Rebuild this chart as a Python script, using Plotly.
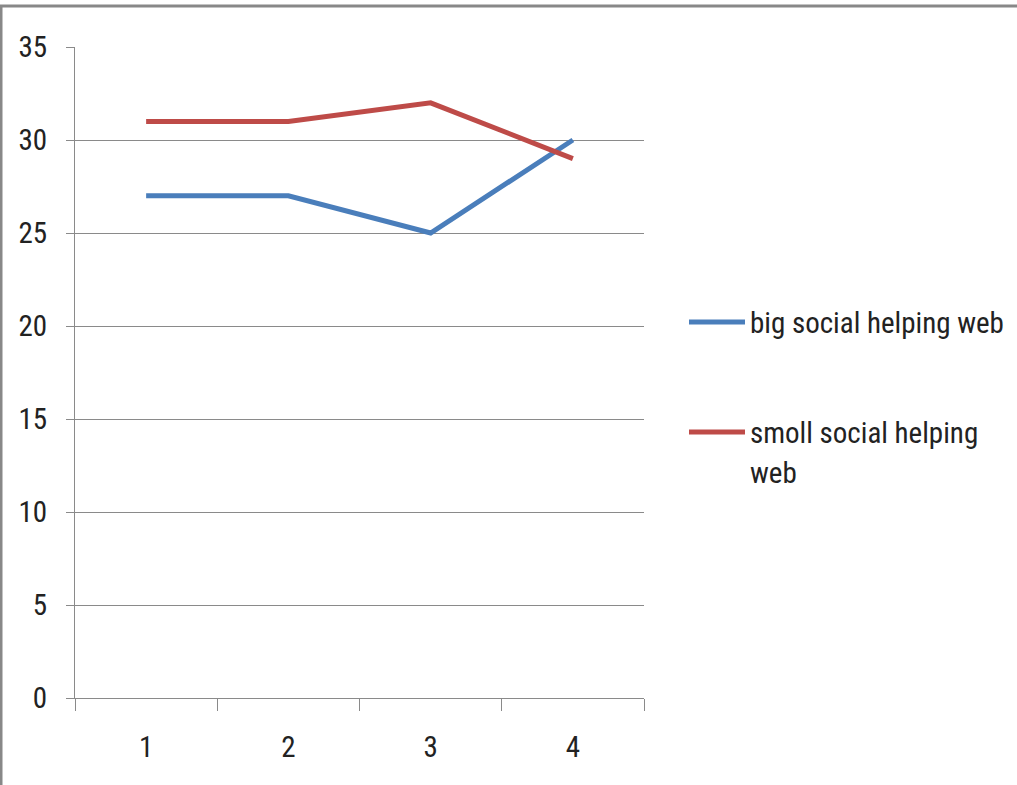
import plotly.graph_objects as go

categories = ["1", "2", "3", "4"]
big_social = [27, 27, 25, 30]
small_social = [31, 31, 32, 29]
series_names = ["big social helping web", "smoll social helping<br>web"]
colors = ["#4A7EBB", "#BE4B48"]

W, H = 1017, 785
L, R, T, B = 75, 644, 47, 698
pw, ph = R - L, B - T

def px(x):
    return (x - L) / pw

def py(y):
    return (B - y) / ph

FONT = "Roboto Condensed, Liberation Sans Narrow, Roboto, sans-serif"

fig = go.Figure()
for vals, name, col in zip([big_social, small_social], series_names, colors):
    fig.add_trace(go.Scatter(x=categories, y=vals, mode="lines", name=name,
                             line=dict(color=col, width=5), showlegend=False))

fig.update_layout(
    width=W, height=H,
    margin=dict(l=L, r=W - R, t=T, b=H - B, pad=0),
    paper_bgcolor="white", plot_bgcolor="white",
    font=dict(family=FONT, size=29, color="#222222"),
    xaxis=dict(type="category", tickson="boundaries", ticks="outside", ticklen=12,
               tickcolor="#8a8a8a", tickwidth=1, showgrid=False, showline=True,
               linecolor="#8a8a8a", linewidth=1, ticklabelstandoff=23,
               range=[-0.5, 3.5], fixedrange=True),
    yaxis=dict(range=[0, 35], dtick=5, tick0=0, ticks="outside", ticklen=8,
               tickcolor="#8a8a8a", showgrid=True, gridcolor="#8a8a8a", gridwidth=1,
               showline=True, linecolor="#8a8a8a", linewidth=1, zeroline=False,
               ticklabelstandoff=13),
)

# legend drawn manually
legend_y = [322, 432]
for yy, name, col in zip(legend_y, series_names, colors):
    fig.add_shape(type="line", xref="paper", yref="paper",
                  x0=px(689), x1=px(745), y0=py(yy), y1=py(yy),
                  line=dict(color=col, width=5))
    for i, part in enumerate(name.split("<br>")):
        fig.add_annotation(xref="paper", yref="paper", x=px(748), y=py(yy + 1 + 40 * i),
                           xanchor="left", yanchor="middle", text=part, showarrow=False,
                           align="left", font=dict(family=FONT, size=29, color="#222222"))

# outer frame (top and left)
fig.add_shape(type="line", xref="paper", yref="paper", x0=px(0), x1=px(W),
              y0=py(6), y1=py(6), line=dict(color="#888888", width=3))
fig.add_shape(type="line", xref="paper", yref="paper", x0=px(1), x1=px(1),
              y0=py(5), y1=py(H), line=dict(color="#888888", width=3))

fig.write_html("out.html")
